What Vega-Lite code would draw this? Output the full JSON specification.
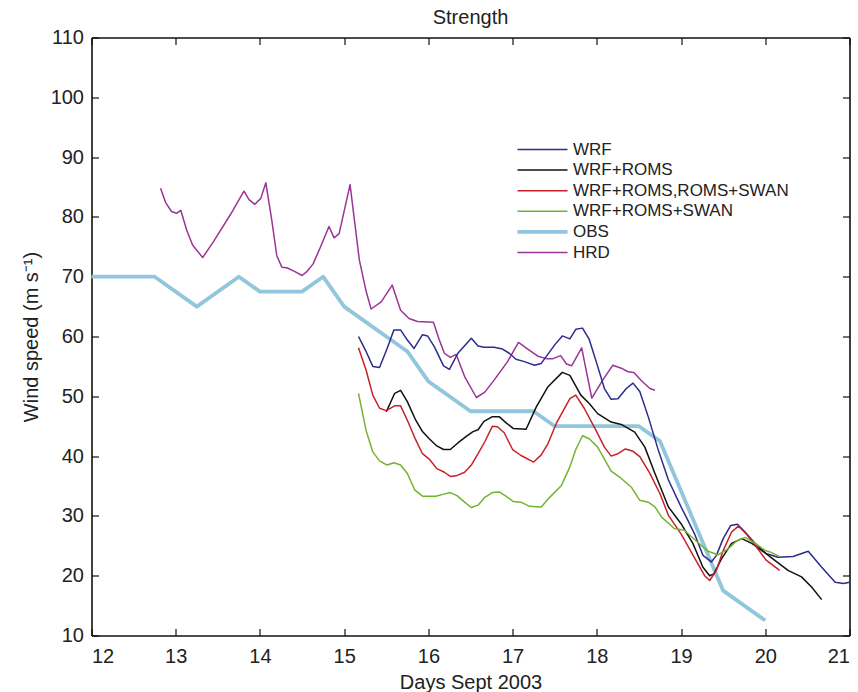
{
  "$schema": "https://vega.github.io/schema/vega-lite/v6.json",
  "autosize": {"type": "none"},
  "width": 758,
  "height": 598,
  "padding": {"left": 91.5, "top": 37.5, "right": 8, "bottom": 57},
  "background": "white",
  "title": {"text": "Strength", "fontSize": 20, "fontWeight": "normal", "font": "Liberation Sans", "color": "#222222", "offset": 0},
  "config": {
    "view": {"stroke": null},
    "axis": {
      "labelFont": "Liberation Sans", "labelFontSize": 20, "labelColor": "#222222",
      "titleFont": "Liberation Sans", "titleFontSize": 20, "titleFontWeight": "normal", "titleColor": "#222222",
      "domainColor": "#111111", "domainWidth": 1.6, "tickColor": "#111111", "tickWidth": 1.2, "tickSize": -7,
      "grid": false
    },
    "legend": {
      "symbolType": "M-2.5,0H2.5", "symbolSize": 400, "labelFont": "Liberation Sans", "labelFontSize": 17,
      "labelColor": "#222222", "labelOffset": 22, "rowPadding": 2.6, "labelLimit": 400
    }
  },
  "datasets": {
    "d": [
      {"series": "OBS", "day": 12, "speed": 70}, {"series": "OBS", "day": 12.75, "speed": 70}, {"series": "OBS", "day": 13.25, "speed": 65},
      {"series": "OBS", "day": 13.75, "speed": 70}, {"series": "OBS", "day": 14, "speed": 67.5}, {"series": "OBS", "day": 14.5, "speed": 67.5},
      {"series": "OBS", "day": 14.75, "speed": 70}, {"series": "OBS", "day": 15, "speed": 65}, {"series": "OBS", "day": 15.75, "speed": 57.5},
      {"series": "OBS", "day": 16, "speed": 52.5}, {"series": "OBS", "day": 16.5, "speed": 47.5}, {"series": "OBS", "day": 17.25, "speed": 47.5},
      {"series": "OBS", "day": 17.5, "speed": 45}, {"series": "OBS", "day": 18.5, "speed": 45}, {"series": "OBS", "day": 18.75, "speed": 42.5},
      {"series": "OBS", "day": 19.5, "speed": 17.5}, {"series": "OBS", "day": 20, "speed": 12.5},

      {"series": "HRD", "day": 12.82, "speed": 84.8}, {"series": "HRD", "day": 12.88, "speed": 82.4}, {"series": "HRD", "day": 12.95, "speed": 80.9},
      {"series": "HRD", "day": 13.01, "speed": 80.6}, {"series": "HRD", "day": 13.06, "speed": 81.1}, {"series": "HRD", "day": 13.13, "speed": 77.8},
      {"series": "HRD", "day": 13.2, "speed": 75.3}, {"series": "HRD", "day": 13.32, "speed": 73.2}, {"series": "HRD", "day": 13.45, "speed": 75.9},
      {"series": "HRD", "day": 13.65, "speed": 80.4}, {"series": "HRD", "day": 13.81, "speed": 84.3}, {"series": "HRD", "day": 13.87, "speed": 82.9},
      {"series": "HRD", "day": 13.94, "speed": 82.1}, {"series": "HRD", "day": 14.01, "speed": 83.1}, {"series": "HRD", "day": 14.07, "speed": 85.7},
      {"series": "HRD", "day": 14.14, "speed": 79.5}, {"series": "HRD", "day": 14.2, "speed": 73.5}, {"series": "HRD", "day": 14.26, "speed": 71.6},
      {"series": "HRD", "day": 14.32, "speed": 71.5}, {"series": "HRD", "day": 14.41, "speed": 70.9}, {"series": "HRD", "day": 14.5, "speed": 70.2},
      {"series": "HRD", "day": 14.56, "speed": 70.9}, {"series": "HRD", "day": 14.63, "speed": 72.1}, {"series": "HRD", "day": 14.72, "speed": 75.0},
      {"series": "HRD", "day": 14.82, "speed": 78.4}, {"series": "HRD", "day": 14.88, "speed": 76.5}, {"series": "HRD", "day": 14.94, "speed": 77.2},
      {"series": "HRD", "day": 15.07, "speed": 85.4}, {"series": "HRD", "day": 15.18, "speed": 72.8}, {"series": "HRD", "day": 15.26, "speed": 67.6},
      {"series": "HRD", "day": 15.32, "speed": 64.6}, {"series": "HRD", "day": 15.44, "speed": 65.8}, {"series": "HRD", "day": 15.57, "speed": 68.6},
      {"series": "HRD", "day": 15.67, "speed": 64.4}, {"series": "HRD", "day": 15.77, "speed": 63.0}, {"series": "HRD", "day": 15.87, "speed": 62.5},
      {"series": "HRD", "day": 16.06, "speed": 62.4}, {"series": "HRD", "day": 16.13, "speed": 59.4}, {"series": "HRD", "day": 16.19, "speed": 57.2},
      {"series": "HRD", "day": 16.26, "speed": 56.5}, {"series": "HRD", "day": 16.33, "speed": 57.0}, {"series": "HRD", "day": 16.43, "speed": 53.3},
      {"series": "HRD", "day": 16.57, "speed": 49.8}, {"series": "HRD", "day": 16.67, "speed": 50.7}, {"series": "HRD", "day": 16.78, "speed": 52.7},
      {"series": "HRD", "day": 16.94, "speed": 55.8}, {"series": "HRD", "day": 17.07, "speed": 59.0}, {"series": "HRD", "day": 17.18, "speed": 57.9},
      {"series": "HRD", "day": 17.3, "speed": 56.7}, {"series": "HRD", "day": 17.4, "speed": 56.3}, {"series": "HRD", "day": 17.48, "speed": 56.3},
      {"series": "HRD", "day": 17.57, "speed": 56.8}, {"series": "HRD", "day": 17.64, "speed": 55.4}, {"series": "HRD", "day": 17.7, "speed": 55.1},
      {"series": "HRD", "day": 17.82, "speed": 58.1}, {"series": "HRD", "day": 17.94, "speed": 49.7}, {"series": "HRD", "day": 18.07, "speed": 52.7},
      {"series": "HRD", "day": 18.19, "speed": 55.2}, {"series": "HRD", "day": 18.29, "speed": 54.7}, {"series": "HRD", "day": 18.37, "speed": 54.1},
      {"series": "HRD", "day": 18.44, "speed": 54.0}, {"series": "HRD", "day": 18.53, "speed": 52.6}, {"series": "HRD", "day": 18.63, "speed": 51.3},
      {"series": "HRD", "day": 18.69, "speed": 51.0},

      {"series": "WRF", "day": 15.17, "speed": 60.0}, {"series": "WRF", "day": 15.26, "speed": 57.5}, {"series": "WRF", "day": 15.34, "speed": 55.0},
      {"series": "WRF", "day": 15.42, "speed": 54.8}, {"series": "WRF", "day": 15.51, "speed": 58.0}, {"series": "WRF", "day": 15.59, "speed": 61.1},
      {"series": "WRF", "day": 15.67, "speed": 61.1}, {"series": "WRF", "day": 15.75, "speed": 59.4}, {"series": "WRF", "day": 15.83, "speed": 58.0},
      {"series": "WRF", "day": 15.93, "speed": 60.3}, {"series": "WRF", "day": 15.99, "speed": 60.1}, {"series": "WRF", "day": 16.07, "speed": 58.3},
      {"series": "WRF", "day": 16.18, "speed": 55.1}, {"series": "WRF", "day": 16.25, "speed": 54.5}, {"series": "WRF", "day": 16.35, "speed": 57.2},
      {"series": "WRF", "day": 16.51, "speed": 59.7}, {"series": "WRF", "day": 16.59, "speed": 58.4}, {"series": "WRF", "day": 16.66, "speed": 58.2},
      {"series": "WRF", "day": 16.78, "speed": 58.2}, {"series": "WRF", "day": 16.88, "speed": 57.9}, {"series": "WRF", "day": 16.96, "speed": 57.2},
      {"series": "WRF", "day": 17.04, "speed": 56.2}, {"series": "WRF", "day": 17.14, "speed": 55.8}, {"series": "WRF", "day": 17.26, "speed": 55.2},
      {"series": "WRF", "day": 17.34, "speed": 55.5}, {"series": "WRF", "day": 17.5, "speed": 58.6}, {"series": "WRF", "day": 17.59, "speed": 60.1},
      {"series": "WRF", "day": 17.68, "speed": 59.6}, {"series": "WRF", "day": 17.75, "speed": 61.2}, {"series": "WRF", "day": 17.83, "speed": 61.4},
      {"series": "WRF", "day": 17.91, "speed": 59.5}, {"series": "WRF", "day": 18.01, "speed": 55.0}, {"series": "WRF", "day": 18.09, "speed": 51.3},
      {"series": "WRF", "day": 18.17, "speed": 49.5}, {"series": "WRF", "day": 18.25, "speed": 49.6}, {"series": "WRF", "day": 18.35, "speed": 51.3},
      {"series": "WRF", "day": 18.43, "speed": 52.2}, {"series": "WRF", "day": 18.51, "speed": 50.8}, {"series": "WRF", "day": 18.61, "speed": 46.6},
      {"series": "WRF", "day": 18.73, "speed": 41.0}, {"series": "WRF", "day": 18.85, "speed": 36.0}, {"series": "WRF", "day": 19.0, "speed": 31.5},
      {"series": "WRF", "day": 19.08, "speed": 29.3}, {"series": "WRF", "day": 19.16, "speed": 27.0}, {"series": "WRF", "day": 19.26, "speed": 23.4},
      {"series": "WRF", "day": 19.36, "speed": 22.3}, {"series": "WRF", "day": 19.42, "speed": 23.4}, {"series": "WRF", "day": 19.5, "speed": 26.2},
      {"series": "WRF", "day": 19.59, "speed": 28.4}, {"series": "WRF", "day": 19.67, "speed": 28.6}, {"series": "WRF", "day": 19.76, "speed": 27.3},
      {"series": "WRF", "day": 19.88, "speed": 25.4}, {"series": "WRF", "day": 20.01, "speed": 23.7}, {"series": "WRF", "day": 20.15, "speed": 23.1},
      {"series": "WRF", "day": 20.33, "speed": 23.2}, {"series": "WRF", "day": 20.51, "speed": 24.1}, {"series": "WRF", "day": 20.67, "speed": 21.4},
      {"series": "WRF", "day": 20.83, "speed": 18.9}, {"series": "WRF", "day": 20.93, "speed": 18.7}, {"series": "WRF", "day": 21.0, "speed": 18.9},

      {"series": "WRF+ROMS", "day": 15.5, "speed": 47.4}, {"series": "WRF+ROMS", "day": 15.6, "speed": 50.5}, {"series": "WRF+ROMS", "day": 15.67, "speed": 51.0},
      {"series": "WRF+ROMS", "day": 15.75, "speed": 49.1}, {"series": "WRF+ROMS", "day": 15.85, "speed": 46.0}, {"series": "WRF+ROMS", "day": 15.93, "speed": 44.1},
      {"series": "WRF+ROMS", "day": 16.01, "speed": 42.9}, {"series": "WRF+ROMS", "day": 16.1, "speed": 41.7}, {"series": "WRF+ROMS", "day": 16.18, "speed": 41.1},
      {"series": "WRF+ROMS", "day": 16.26, "speed": 41.1}, {"series": "WRF+ROMS", "day": 16.35, "speed": 42.2}, {"series": "WRF+ROMS", "day": 16.45, "speed": 43.3},
      {"series": "WRF+ROMS", "day": 16.53, "speed": 44.1}, {"series": "WRF+ROMS", "day": 16.59, "speed": 44.4}, {"series": "WRF+ROMS", "day": 16.66, "speed": 45.8},
      {"series": "WRF+ROMS", "day": 16.76, "speed": 46.6}, {"series": "WRF+ROMS", "day": 16.84, "speed": 46.6}, {"series": "WRF+ROMS", "day": 16.92, "speed": 45.6},
      {"series": "WRF+ROMS", "day": 17.01, "speed": 44.6}, {"series": "WRF+ROMS", "day": 17.16, "speed": 44.5}, {"series": "WRF+ROMS", "day": 17.28, "speed": 48.2},
      {"series": "WRF+ROMS", "day": 17.42, "speed": 51.6}, {"series": "WRF+ROMS", "day": 17.59, "speed": 54.0}, {"series": "WRF+ROMS", "day": 17.68, "speed": 53.5},
      {"series": "WRF+ROMS", "day": 17.81, "speed": 50.2}, {"series": "WRF+ROMS", "day": 17.91, "speed": 48.8}, {"series": "WRF+ROMS", "day": 18.01, "speed": 47.1},
      {"series": "WRF+ROMS", "day": 18.17, "speed": 45.7}, {"series": "WRF+ROMS", "day": 18.29, "speed": 45.3}, {"series": "WRF+ROMS", "day": 18.45, "speed": 44.0},
      {"series": "WRF+ROMS", "day": 18.57, "speed": 41.5}, {"series": "WRF+ROMS", "day": 18.69, "speed": 37.1}, {"series": "WRF+ROMS", "day": 18.85, "speed": 31.5},
      {"series": "WRF+ROMS", "day": 19.0, "speed": 28.7}, {"series": "WRF+ROMS", "day": 19.14, "speed": 25.4}, {"series": "WRF+ROMS", "day": 19.26, "speed": 21.4},
      {"series": "WRF+ROMS", "day": 19.34, "speed": 20.0}, {"series": "WRF+ROMS", "day": 19.39, "speed": 20.3}, {"series": "WRF+ROMS", "day": 19.48, "speed": 22.8},
      {"series": "WRF+ROMS", "day": 19.6, "speed": 25.4}, {"series": "WRF+ROMS", "day": 19.72, "speed": 26.2}, {"series": "WRF+ROMS", "day": 19.84, "speed": 25.4},
      {"series": "WRF+ROMS", "day": 19.96, "speed": 24.2}, {"series": "WRF+ROMS", "day": 20.11, "speed": 22.6}, {"series": "WRF+ROMS", "day": 20.27, "speed": 20.9},
      {"series": "WRF+ROMS", "day": 20.43, "speed": 19.8}, {"series": "WRF+ROMS", "day": 20.55, "speed": 18.1}, {"series": "WRF+ROMS", "day": 20.67, "speed": 16.0},

      {"series": "WRF+ROMS,ROMS+SWAN", "day": 15.17, "speed": 58.1}, {"series": "WRF+ROMS,ROMS+SWAN", "day": 15.26, "speed": 54.4},
      {"series": "WRF+ROMS,ROMS+SWAN", "day": 15.34, "speed": 50.2}, {"series": "WRF+ROMS,ROMS+SWAN", "day": 15.42, "speed": 48.0},
      {"series": "WRF+ROMS,ROMS+SWAN", "day": 15.5, "speed": 47.6}, {"series": "WRF+ROMS,ROMS+SWAN", "day": 15.6, "speed": 48.4},
      {"series": "WRF+ROMS,ROMS+SWAN", "day": 15.67, "speed": 48.4}, {"series": "WRF+ROMS,ROMS+SWAN", "day": 15.75, "speed": 46.0},
      {"series": "WRF+ROMS,ROMS+SWAN", "day": 15.85, "speed": 42.7}, {"series": "WRF+ROMS,ROMS+SWAN", "day": 15.93, "speed": 40.4},
      {"series": "WRF+ROMS,ROMS+SWAN", "day": 16.01, "speed": 39.5}, {"series": "WRF+ROMS,ROMS+SWAN", "day": 16.1, "speed": 37.9},
      {"series": "WRF+ROMS,ROMS+SWAN", "day": 16.19, "speed": 37.3}, {"series": "WRF+ROMS,ROMS+SWAN", "day": 16.26, "speed": 36.6},
      {"series": "WRF+ROMS,ROMS+SWAN", "day": 16.33, "speed": 36.7}, {"series": "WRF+ROMS,ROMS+SWAN", "day": 16.43, "speed": 37.3},
      {"series": "WRF+ROMS,ROMS+SWAN", "day": 16.51, "speed": 38.5}, {"series": "WRF+ROMS,ROMS+SWAN", "day": 16.59, "speed": 40.4},
      {"series": "WRF+ROMS,ROMS+SWAN", "day": 16.67, "speed": 42.4}, {"series": "WRF+ROMS,ROMS+SWAN", "day": 16.76, "speed": 45.0},
      {"series": "WRF+ROMS,ROMS+SWAN", "day": 16.82, "speed": 44.9}, {"series": "WRF+ROMS,ROMS+SWAN", "day": 16.9, "speed": 43.9},
      {"series": "WRF+ROMS,ROMS+SWAN", "day": 17.0, "speed": 41.1}, {"series": "WRF+ROMS,ROMS+SWAN", "day": 17.1, "speed": 40.1},
      {"series": "WRF+ROMS,ROMS+SWAN", "day": 17.25, "speed": 39.0}, {"series": "WRF+ROMS,ROMS+SWAN", "day": 17.34, "speed": 40.2},
      {"series": "WRF+ROMS,ROMS+SWAN", "day": 17.42, "speed": 42.1}, {"series": "WRF+ROMS,ROMS+SWAN", "day": 17.52, "speed": 45.5},
      {"series": "WRF+ROMS,ROMS+SWAN", "day": 17.68, "speed": 49.6}, {"series": "WRF+ROMS,ROMS+SWAN", "day": 17.75, "speed": 50.2},
      {"series": "WRF+ROMS,ROMS+SWAN", "day": 17.85, "speed": 48.0}, {"series": "WRF+ROMS,ROMS+SWAN", "day": 17.99, "speed": 44.3},
      {"series": "WRF+ROMS,ROMS+SWAN", "day": 18.09, "speed": 41.5}, {"series": "WRF+ROMS,ROMS+SWAN", "day": 18.17, "speed": 40.0},
      {"series": "WRF+ROMS,ROMS+SWAN", "day": 18.25, "speed": 40.4}, {"series": "WRF+ROMS,ROMS+SWAN", "day": 18.34, "speed": 41.2},
      {"series": "WRF+ROMS,ROMS+SWAN", "day": 18.43, "speed": 40.8}, {"series": "WRF+ROMS,ROMS+SWAN", "day": 18.51, "speed": 39.9},
      {"series": "WRF+ROMS,ROMS+SWAN", "day": 18.63, "speed": 37.1}, {"series": "WRF+ROMS,ROMS+SWAN", "day": 18.75, "speed": 33.7},
      {"series": "WRF+ROMS,ROMS+SWAN", "day": 18.85, "speed": 30.1}, {"series": "WRF+ROMS,ROMS+SWAN", "day": 19.0, "speed": 27.0},
      {"series": "WRF+ROMS,ROMS+SWAN", "day": 19.16, "speed": 23.0}, {"series": "WRF+ROMS,ROMS+SWAN", "day": 19.28, "speed": 20.0},
      {"series": "WRF+ROMS,ROMS+SWAN", "day": 19.34, "speed": 19.2}, {"series": "WRF+ROMS,ROMS+SWAN", "day": 19.42, "speed": 20.9},
      {"series": "WRF+ROMS,ROMS+SWAN", "day": 19.5, "speed": 24.2}, {"series": "WRF+ROMS,ROMS+SWAN", "day": 19.6, "speed": 27.3},
      {"series": "WRF+ROMS,ROMS+SWAN", "day": 19.68, "speed": 28.3}, {"series": "WRF+ROMS,ROMS+SWAN", "day": 19.78, "speed": 26.9},
      {"series": "WRF+ROMS,ROMS+SWAN", "day": 19.88, "speed": 25.1}, {"series": "WRF+ROMS,ROMS+SWAN", "day": 20.01, "speed": 22.6},
      {"series": "WRF+ROMS,ROMS+SWAN", "day": 20.17, "speed": 20.9},

      {"series": "WRF+ROMS+SWAN", "day": 15.17, "speed": 50.5}, {"series": "WRF+ROMS+SWAN", "day": 15.26, "speed": 44.3}, {"series": "WRF+ROMS+SWAN", "day": 15.34, "speed": 40.7},
      {"series": "WRF+ROMS+SWAN", "day": 15.42, "speed": 39.2}, {"series": "WRF+ROMS+SWAN", "day": 15.51, "speed": 38.5}, {"series": "WRF+ROMS+SWAN", "day": 15.59, "speed": 38.9},
      {"series": "WRF+ROMS+SWAN", "day": 15.67, "speed": 38.5}, {"series": "WRF+ROMS+SWAN", "day": 15.75, "speed": 37.1}, {"series": "WRF+ROMS+SWAN", "day": 15.84, "speed": 34.3},
      {"series": "WRF+ROMS+SWAN", "day": 15.93, "speed": 33.3}, {"series": "WRF+ROMS+SWAN", "day": 16.09, "speed": 33.3}, {"series": "WRF+ROMS+SWAN", "day": 16.17, "speed": 33.6},
      {"series": "WRF+ROMS+SWAN", "day": 16.26, "speed": 33.9}, {"series": "WRF+ROMS+SWAN", "day": 16.34, "speed": 33.4}, {"series": "WRF+ROMS+SWAN", "day": 16.43, "speed": 32.3},
      {"series": "WRF+ROMS+SWAN", "day": 16.51, "speed": 31.4}, {"series": "WRF+ROMS+SWAN", "day": 16.59, "speed": 31.8}, {"series": "WRF+ROMS+SWAN", "day": 16.67, "speed": 33.1},
      {"series": "WRF+ROMS+SWAN", "day": 16.76, "speed": 33.9}, {"series": "WRF+ROMS+SWAN", "day": 16.84, "speed": 34.0}, {"series": "WRF+ROMS+SWAN", "day": 16.92, "speed": 33.3},
      {"series": "WRF+ROMS+SWAN", "day": 17.01, "speed": 32.4}, {"series": "WRF+ROMS+SWAN", "day": 17.1, "speed": 32.3}, {"series": "WRF+ROMS+SWAN", "day": 17.2, "speed": 31.6},
      {"series": "WRF+ROMS+SWAN", "day": 17.34, "speed": 31.5}, {"series": "WRF+ROMS+SWAN", "day": 17.44, "speed": 33.1}, {"series": "WRF+ROMS+SWAN", "day": 17.58, "speed": 35.1},
      {"series": "WRF+ROMS+SWAN", "day": 17.68, "speed": 38.2}, {"series": "WRF+ROMS+SWAN", "day": 17.75, "speed": 41.1}, {"series": "WRF+ROMS+SWAN", "day": 17.83, "speed": 43.4},
      {"series": "WRF+ROMS+SWAN", "day": 17.91, "speed": 42.9}, {"series": "WRF+ROMS+SWAN", "day": 18.01, "speed": 41.5}, {"series": "WRF+ROMS+SWAN", "day": 18.17, "speed": 37.5},
      {"series": "WRF+ROMS+SWAN", "day": 18.27, "speed": 36.5}, {"series": "WRF+ROMS+SWAN", "day": 18.41, "speed": 34.8}, {"series": "WRF+ROMS+SWAN", "day": 18.51, "speed": 32.6},
      {"series": "WRF+ROMS+SWAN", "day": 18.61, "speed": 32.3}, {"series": "WRF+ROMS+SWAN", "day": 18.69, "speed": 31.5}, {"series": "WRF+ROMS+SWAN", "day": 18.77, "speed": 29.8},
      {"series": "WRF+ROMS+SWAN", "day": 18.92, "speed": 27.9}, {"series": "WRF+ROMS+SWAN", "day": 19.04, "speed": 27.6}, {"series": "WRF+ROMS+SWAN", "day": 19.18, "speed": 25.8},
      {"series": "WRF+ROMS+SWAN", "day": 19.32, "speed": 24.1}, {"series": "WRF+ROMS+SWAN", "day": 19.44, "speed": 23.5}, {"series": "WRF+ROMS+SWAN", "day": 19.56, "speed": 24.5},
      {"series": "WRF+ROMS+SWAN", "day": 19.66, "speed": 25.8}, {"series": "WRF+ROMS+SWAN", "day": 19.76, "speed": 26.4}, {"series": "WRF+ROMS+SWAN", "day": 19.88, "speed": 25.4},
      {"series": "WRF+ROMS+SWAN", "day": 20.0, "speed": 24.2}, {"series": "WRF+ROMS+SWAN", "day": 20.07, "speed": 23.9}, {"series": "WRF+ROMS+SWAN", "day": 20.17, "speed": 23.2}
    ]
  },
  "data": {"name": "d"},
  "layer": [
    {
      "mark": {"type": "line", "strokeJoin": "round", "strokeCap": "butt"},
      "encoding": {
        "x": {"field": "day", "type": "quantitative", "scale": {"domain": [12, 21], "nice": false, "zero": false},
              "axis": {"values": [12, 13, 14, 15, 16, 17, 18, 19, 20, 21], "title": "Days Sept 2003", "labelPadding": 18, "titlePadding": 6}},
        "y": {"field": "speed", "type": "quantitative", "scale": {"domain": [10, 110], "nice": false, "zero": false},
              "axis": {"values": [10, 20, 30, 40, 50, 60, 70, 80, 90, 100, 110], "title": "Wind speed (m s⁻¹)", "labelPadding": 15, "titlePadding": 9}},
        "color": {"field": "series", "type": "nominal",
                  "scale": {"domain": ["WRF", "WRF+ROMS", "WRF+ROMS,ROMS+SWAN", "WRF+ROMS+SWAN", "OBS", "HRD"],
                            "range": ["#2d2b8c", "#111111", "#c8202a", "#74b330", "#92c6dc", "#9b3595"]},
                  "legend": {"title": null, "orient": "none", "legendX": 442.5, "legendY": 103.5,
                             "encode": {"symbols": {"update": {"strokeWidth": {"signal": "datum.value === 'OBS' ? 3.8 : 1.5"}}}}}},
        "strokeWidth": {"condition": {"test": "datum.series === 'OBS'", "value": 3.8}, "value": 1.5}
      }
    },
    {
      "mark": {"type": "line", "opacity": 0},
      "encoding": {
        "x": {"field": "day", "type": "quantitative", "axis": {"orient": "top", "labels": false, "title": null, "values": [12, 13, 14, 15, 16, 17, 18, 19, 20, 21]}},
        "y": {"field": "speed", "type": "quantitative", "axis": {"orient": "right", "labels": false, "title": null, "values": [10, 20, 30, 40, 50, 60, 70, 80, 90, 100, 110]}},
        "detail": {"field": "series", "type": "nominal"}
      }
    }
  ],
  "resolve": {"axis": {"x": "independent", "y": "independent"}}
}
